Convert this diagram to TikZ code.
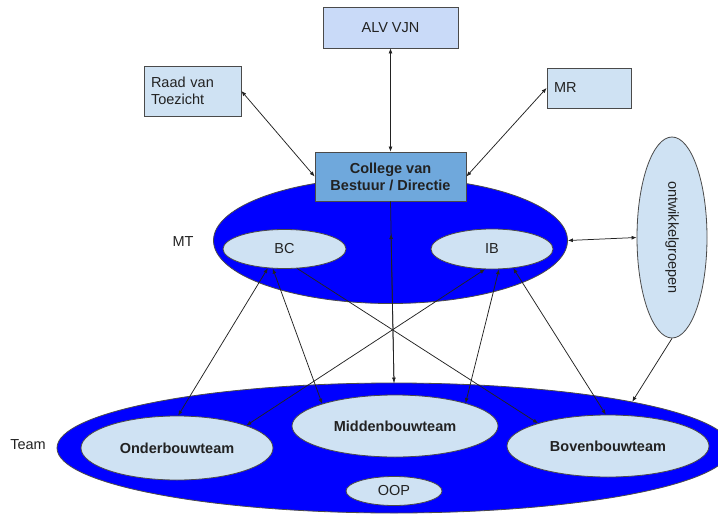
\documentclass[tikz,border=0pt]{standalone}
\usepackage{fontspec}
\setmainfont{Liberation Sans}
\usetikzlibrary{shapes.geometric,arrows.meta}
\definecolor{boxA}{HTML}{C9DAF8}
\definecolor{boxB}{HTML}{CFE2F3}
\definecolor{cvb}{HTML}{6FA8DC}
\definecolor{bigblue}{HTML}{0000FF}
\definecolor{edgec}{HTML}{4A4A4A}
\definecolor{txt}{HTML}{222222}
\begin{document}
\begin{tikzpicture}[x=1pt,y=-1pt,
  every node/.style={font=\fontsize{14.5}{17.2}\selectfont, text=txt},
  box/.style={draw=edgec, line width=0.8pt, rectangle, inner sep=0pt},
  oval/.style={draw=edgec, ellipse, inner sep=0pt, line width=0.8pt},
  con/.style={line width=0.75pt, draw=txt},
  tip/.style={-{Latex[length=5pt,width=4pt]}},
  both/.style={{Latex[length=5pt,width=4pt]}-{Latex[length=5pt,width=4pt]}},
  lbl/.style={inner sep=0pt}
]
\useasboundingbox (0,0) rectangle (718,514);

% big ellipses
\node[oval, fill=bigblue, minimum width=674, minimum height=130] (Team) at (394,448) {};
\node[oval, fill=bigblue, minimum width=354, minimum height=126] (MT) at (390.5,240.5) {};

% boxes
\node[box, fill=boxA, minimum width=135, minimum height=41] (ALV) at (390.5,27.5) {ALV VJN};
\node[box, fill=boxB, minimum height=50, text width=83, inner xsep=7pt, align=left] (Raad) at (192.5,91) {Raad van\\Toezicht};
\node[box, fill=boxB, minimum height=40, text width=70, inner xsep=7pt, align=left] (MR) at (589,88) {MR};
\node[box, fill=cvb, minimum width=151, minimum height=49, align=center, font=\fontsize{14.5}{17}\selectfont\bfseries] (CvB) at (390.5,176.5) {College van\\Bestuur / Directie};

% inner ellipses
\node[oval, fill=boxB, minimum width=123, minimum height=39] (BC) at (284.5,249) {BC};
\node[oval, fill=boxB, minimum width=122, minimum height=40] (IB) at (492,249) {IB};
\node[oval, fill=boxB, minimum width=70, minimum height=201,
      label={[rotate=-90, lbl]center:ontwikkelgroepen}] (ontw) at (672,237.5) {};

\node[oval, fill=boxB, minimum width=192, minimum height=64, font=\fontsize{14.5}{17}\selectfont\bfseries] (Onder) at (177,448) {Onderbouwteam};
\node[oval, fill=boxB, minimum width=206, minimum height=62, font=\fontsize{14.5}{17}\selectfont\bfseries] (Midden) at (395,426) {Middenbouwteam};
\node[oval, fill=boxB, minimum width=202, minimum height=62, font=\fontsize{14.5}{17}\selectfont\bfseries] (Boven) at (608,446) {Bovenbouwteam};
\node[oval, fill=boxB, minimum width=96, minimum height=29] (OOP) at (394,491) {OOP};

% labels
\node[lbl] (mtlabel) at (183,242) {MT};
\node[lbl] (teamlabel) at (28,445) {Team};

\coordinate (mtmid) at (391,234);

% connectors
\draw[con,both] (ALV.south) -- (CvB.north);
\draw[con,both] (Raad.east) -- (CvB.west);
\draw[con,both] (MR.west) -- (CvB.east);
\draw[con,tip] (CvB.south) -- (Team.north);
\draw[con,tip] (Team.north) -- (mtmid);
\draw[con,both] (MT.east) -- (ontw.west);
\draw[con,tip] (ontw.south) -- (Team.11);

\draw[con,both] (Onder.88) -- (BC.229);
\draw[con,both] (Onder.18) -- (IB.251);
\draw[con,both] (Midden.163) -- (BC.239);
\draw[con,tip] (BC.303) -- (Boven.162.5);
\draw[con,both] (Midden.18) -- (IB.289);
\draw[con,both] (Boven.94) -- (IB.318);
\end{tikzpicture}
\end{document}
